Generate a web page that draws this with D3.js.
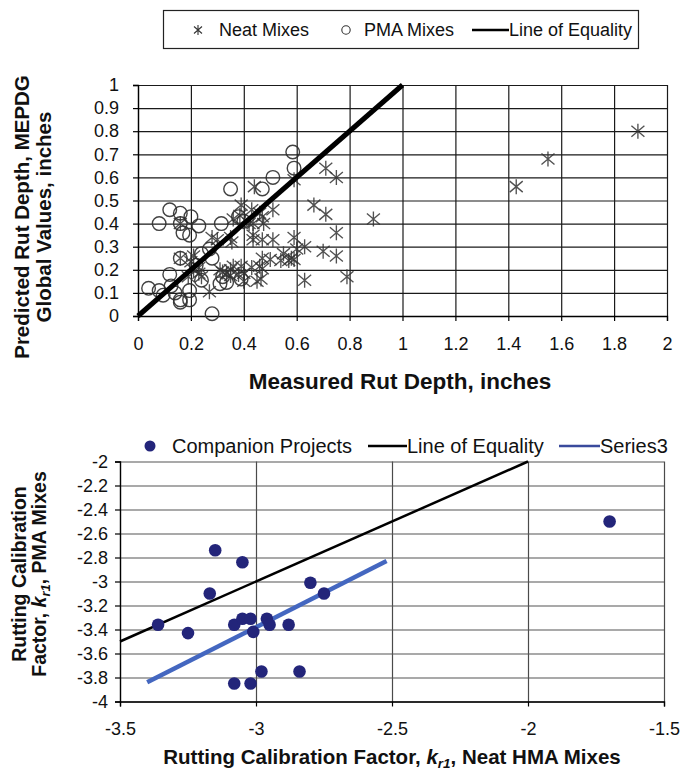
<!DOCTYPE html>
<html><head><meta charset="utf-8">
<script src="https://cdn.jsdelivr.net/npm/d3@7"></script>
<style>
html,body{margin:0;padding:0;background:#fff;}
svg{display:block;font-family:"Liberation Sans",Arial,Helvetica,sans-serif;}
</style></head><body>
<svg id="chart" width="681" height="770"></svg>
<script>
// ---- Rut depth: measured vs. MEPDG predicted (global values), inches ----
const neatMeasured = [1.43,1.55,1.89,0.89,0.71,0.75,0.59,0.44,0.665,0.71,0.75,0.75,0.70,0.63,0.59,0.60,0.51,0.435,0.355,0.28,
  0.79,0.63,0.465,0.40,0.335,0.27,0.39,0.43,0.51,0.47,0.36,0.435,0.475,0.46,0.47,0.50,0.54,0.57,0.59,0.46,
  0.43,0.39,0.36,0.32,0.35,0.16,0.20,0.16,0.23,0.23,0.24,0.31,0.35,0.38,0.40,0.47,0.30,0.35,0.385,0.42,
  0.435,0.47,0.21,0.19,0.21,0.45,0.55,0.58];
const neatPredicted = [0.56,0.68,0.80,0.42,0.64,0.60,0.59,0.56,0.48,0.44,0.36,0.26,0.28,0.30,0.34,0.29,0.33,0.35,0.32,0.34,
  0.17,0.155,0.16,0.185,0.185,0.105,0.48,0.46,0.46,0.43,0.42,0.40,0.40,0.445,0.25,0.245,0.24,0.24,0.245,0.215,
  0.21,0.215,0.215,0.19,0.175,0.25,0.235,0.40,0.185,0.21,0.17,0.20,0.20,0.18,0.15,0.205,0.33,0.34,0.435,0.40,
  0.33,0.33,0.20,0.17,0.26,0.15,0.27,0.25];
const pmaMeasured = [0.585,0.59,0.51,0.35,0.47,0.12,0.16,0.20,0.08,0.16,0.23,0.315,0.17,0.195,0.38,0.16,0.27,0.24,0.28,0.22,
  0.04,0.08,0.12,0.125,0.16,0.195,0.195,0.095,0.14,0.24,0.28,0.31,0.335,0.39,0.32,0.40,0.16];
const pmaPredicted = [0.71,0.64,0.60,0.55,0.55,0.46,0.445,0.43,0.40,0.40,0.39,0.40,0.36,0.35,0.43,0.25,0.29,0.27,0.25,0.22,
  0.12,0.11,0.18,0.13,0.07,0.07,0.11,0.09,0.10,0.155,0.01,0.14,0.145,0.16,0.17,0.41,0.06];
const rutEquality = [0, 1];
const rutXTicks = [0,0.2,0.4,0.6,0.8,1,1.2,1.4,1.6,1.8,2];
const rutXLabels = ["0","0.2","0.4","0.6","0.8","1","1.2","1.4","1.6","1.8","2"];
const rutYTicks = [0,0.1,0.2,0.3,0.4,0.5,0.6,0.7,0.8,0.9,1];
const rutYLabels = ["0","0.1","0.2","0.3","0.4","0.5","0.6","0.7","0.8","0.9","1"];

// ---- Rutting calibration factor k_r1: neat HMA vs. PMA mixes ----
const neatKr1 = [-3.36,-3.25,-3.15,-3.17,-3.05,-3.08,-3.05,-3.02,-3.01,-2.96,-2.95,-2.88,-2.80,-2.75,-2.98,-2.84,-3.08,-3.02,-1.70];
const pmaKr1  = [-3.36,-3.43,-2.74,-3.10,-2.84,-3.36,-3.31,-3.31,-3.42,-3.31,-3.36,-3.36,-3.01,-3.10,-3.75,-3.75,-3.85,-3.85,-2.50];
const kEquality = [-3.5, -2];
const series3X = [-3.4, -2.52];
const series3Y = [-3.84, -2.83];
const kXTicks = [-3.5,-3,-2.5,-2,-1.5];
const kXLabels = ["-3.5","-3","-2.5","-2","-1.5"];
const kYTicks = [-4,-3.8,-3.6,-3.4,-3.2,-3,-2.8,-2.6,-2.4,-2.2,-2];
const kYLabels = ["-4","-3.8","-3.6","-3.4","-3.2","-3","-2.8","-2.6","-2.4","-2.2","-2"];

const svg = d3.select("#chart");
const asterisk = "M-6.5,-5.5L6.5,5.5M-6.5,5.5L6.5,-5.5M0,-7.5L0,7.5";
const FONT = "Liberation Sans, Arial, sans-serif";

// ================= Upper chart =================
const xR = d3.scaleLinear([0, 2], [138, 667]);
const yR = d3.scaleLinear([0, 1], [316, 85]);
const gR = svg.append("g");

// grid
gR.append("g").attr("transform", `translate(0,${yR(0)})`)
  .call(d3.axisBottom(xR).tickValues(rutXTicks).tickSize(0).tickFormat(""))
  .call(g => g.selectAll(".tick line").attr("y2", -(yR(0) - yR(1))).attr("stroke", "#1a1a1a").attr("stroke-width", 1.2))
  .call(g => g.select(".domain").remove());
gR.append("g").attr("transform", `translate(${xR(0)},0)`)
  .call(d3.axisRight(yR).tickValues(rutYTicks).tickSize(xR(2) - xR(0)).tickFormat(""))
  .call(g => g.selectAll(".tick line").attr("stroke", "#1a1a1a").attr("stroke-width", 1.2))
  .call(g => g.select(".domain").remove());

// axes with outward ticks and labels
gR.append("g").attr("transform", `translate(0,${yR(0)})`)
  .call(d3.axisBottom(xR).tickValues(rutXTicks).tickSize(5).tickPadding(16).tickFormat((d, i) => rutXLabels[i]))
  .call(g => g.select(".domain").attr("stroke", "#000").attr("stroke-width", 1.3))
  .call(g => g.selectAll(".tick line").attr("stroke", "#000").attr("stroke-width", 1.2))
  .call(g => g.selectAll("text").attr("font-size", 18).attr("fill", "#111").attr("font-family", FONT));
gR.append("g").attr("transform", `translate(${xR(0)},0)`)
  .call(d3.axisLeft(yR).tickValues(rutYTicks).tickSize(5).tickPadding(14).tickFormat((d, i) => rutYLabels[i]))
  .call(g => g.select(".domain").attr("stroke", "#000").attr("stroke-width", 1.3))
  .call(g => g.selectAll(".tick line").attr("stroke", "#000").attr("stroke-width", 1.2))
  .call(g => g.selectAll("text").attr("font-size", 18).attr("fill", "#111").attr("font-family", FONT));

// PMA mixes (open circles)
gR.append("g").selectAll("circle").data(pmaMeasured).join("circle")
  .attr("cx", (d) => xR(d)).attr("cy", (d, i) => yR(pmaPredicted[i])).attr("r", 6.8)
  .attr("fill", "none").attr("stroke", "#2e2e2e").attr("stroke-width", 1.4).attr("stroke-opacity", 0.9);

// Neat mixes (asterisks)
gR.append("g").selectAll("path").data(neatMeasured).join("path")
  .attr("transform", (d, i) => `translate(${xR(d)},${yR(neatPredicted[i])})`)
  .attr("d", asterisk).attr("fill", "none").attr("stroke", "#333").attr("stroke-width", 1.35).attr("stroke-opacity", 0.85);

// line of equality
gR.append("line")
  .attr("x1", xR(rutEquality[0])).attr("y1", yR(rutEquality[0]))
  .attr("x2", xR(rutEquality[1])).attr("y2", yR(rutEquality[1]))
  .attr("stroke", "#000").attr("stroke-width", 5);

// axis titles
gR.append("text").attr("x", 400).attr("y", 389).attr("text-anchor", "middle")
  .attr("font-size", 22.5).attr("font-weight", "bold").attr("fill", "#111")
  .text("Measured Rut Depth, inches");
const yTitleR = gR.append("text").attr("transform", "translate(29,217) rotate(-90)")
  .attr("text-anchor", "middle").attr("font-size", 20.5).attr("font-weight", "bold").attr("fill", "#111");
yTitleR.append("tspan").attr("x", 0).attr("dy", 0).text("Predicted Rut Depth, MEPDG");
yTitleR.append("tspan").attr("x", 0).attr("dy", 22).text("Global Values, inches");

// legend box
const legR = gR.append("g");
legR.append("rect").attr("x", 163.5).attr("y", 10.5).attr("width", 475).attr("height", 38)
  .attr("fill", "#fff").attr("stroke", "#222").attr("stroke-width", 1.2);
legR.append("path").attr("transform", "translate(198,30)")
  .attr("d", "M-4,-3.5L4,3.5M-4,3.5L4,-3.5M0,-5L0,5").attr("fill", "none").attr("stroke", "#333").attr("stroke-width", 1.1);
legR.append("text").attr("x", 219).attr("y", 36).attr("font-size", 18).attr("fill", "#111").text("Neat Mixes");
legR.append("circle").attr("cx", 346).attr("cy", 30).attr("r", 4.2).attr("fill", "none").attr("stroke", "#333").attr("stroke-width", 1.1);
legR.append("text").attr("x", 364).attr("y", 36).attr("font-size", 18).attr("fill", "#111").text("PMA Mixes");
legR.append("line").attr("x1", 472).attr("x2", 509).attr("y1", 30).attr("y2", 30).attr("stroke", "#000").attr("stroke-width", 2.5);
legR.append("text").attr("x", 509).attr("y", 36).attr("font-size", 18).attr("fill", "#111").text("Line of Equality");

// ================= Lower chart =================
const xK = d3.scaleLinear([-3.5, -1.5], [120, 664]);
const yK = d3.scaleLinear([-4, -2], [701.5, 461.5]);
const gK = svg.append("g");

gK.append("g").attr("transform", `translate(0,${yK(-4)})`)
  .call(d3.axisBottom(xK).tickValues(kXTicks).tickSize(0).tickFormat(""))
  .call(g => g.selectAll(".tick line").attr("y2", -(yK(-4) - yK(-2))).attr("stroke", "#4a4a4a").attr("stroke-width", 1.2))
  .call(g => g.select(".domain").remove());
gK.append("g").attr("transform", `translate(${xK(-3.5)},0)`)
  .call(d3.axisRight(yK).tickValues(kYTicks).tickSize(xK(-1.5) - xK(-3.5)).tickFormat(""))
  .call(g => g.selectAll(".tick line").attr("stroke", "#555").attr("stroke-width", 1.2))
  .call(g => g.select(".domain").remove());

gK.append("g").attr("transform", `translate(0,${yK(-4)})`)
  .call(d3.axisBottom(xK).tickValues(kXTicks).tickSize(5).tickPadding(16).tickFormat((d, i) => kXLabels[i]))
  .call(g => g.select(".domain").attr("stroke", "#000").attr("stroke-width", 1.3))
  .call(g => g.selectAll(".tick line").attr("stroke", "#000").attr("stroke-width", 1.2))
  .call(g => g.selectAll("text").attr("font-size", 18).attr("fill", "#111").attr("font-family", FONT));
gK.append("g").attr("transform", `translate(${xK(-3.5)},0)`)
  .call(d3.axisLeft(yK).tickValues(kYTicks).tickSize(5).tickPadding(7).tickFormat((d, i) => kYLabels[i]))
  .call(g => g.select(".domain").attr("stroke", "#000").attr("stroke-width", 1.3))
  .call(g => g.selectAll(".tick line").attr("stroke", "#000").attr("stroke-width", 1.2))
  .call(g => g.selectAll("text").attr("font-size", 18).attr("fill", "#111").attr("font-family", FONT));

// line of equality
gK.append("line")
  .attr("x1", xK(kEquality[0])).attr("y1", yK(kEquality[0]))
  .attr("x2", xK(kEquality[1])).attr("y2", yK(kEquality[1]))
  .attr("stroke", "#000").attr("stroke-width", 2.5);

// Series3 trend line
gK.append("line")
  .attr("x1", xK(series3X[0])).attr("y1", yK(series3Y[0]))
  .attr("x2", xK(series3X[1])).attr("y2", yK(series3Y[1]))
  .attr("stroke", "#4467c0").attr("stroke-width", 4.5);

// companion projects
gK.append("g").selectAll("circle").data(neatKr1).join("circle")
  .attr("cx", d => xK(d)).attr("cy", (d, i) => yK(pmaKr1[i])).attr("r", 6.3)
  .attr("fill", "#23257a");

// axis titles
const xTitleK = gK.append("text").attr("x", 392).attr("y", 764).attr("text-anchor", "middle")
  .attr("font-size", 20.5).attr("font-weight", "bold").attr("fill", "#111");
xTitleK.append("tspan").text("Rutting Calibration Factor, ");
xTitleK.append("tspan").attr("font-style", "italic").text("k");
xTitleK.append("tspan").attr("font-style", "italic").attr("font-size", 13.5).attr("dy", 4).text("r1");
xTitleK.append("tspan").attr("dy", -4).text(", Neat HMA Mixes");

const yTitleK = gK.append("text").attr("transform", "translate(26,574) rotate(-90)")
  .attr("text-anchor", "middle").attr("font-size", 19.5).attr("font-weight", "bold").attr("fill", "#111");
yTitleK.append("tspan").attr("x", 0).attr("dy", 0).text("Rutting Calibration");
yTitleK.append("tspan").attr("x", 0).attr("dy", 20).text("Factor, ");
yTitleK.append("tspan").attr("font-style", "italic").text("k");
yTitleK.append("tspan").attr("font-style", "italic").attr("font-size", 13).attr("dy", 4).text("r1");
yTitleK.append("tspan").attr("dy", -4).text(", PMA Mixes");

// legend (no border)
const legK = gK.append("g");
legK.append("circle").attr("cx", 150).attr("cy", 446).attr("r", 5.5).attr("fill", "#23257a");
legK.append("text").attr("x", 172).attr("y", 452.5).attr("font-size", 20).attr("fill", "#111").text("Companion Projects");
legK.append("line").attr("x1", 368).attr("x2", 407).attr("y1", 446).attr("y2", 446).attr("stroke", "#000").attr("stroke-width", 2.5);
legK.append("text").attr("x", 407).attr("y", 452.5).attr("font-size", 20).attr("fill", "#111").text("Line of Equality");
legK.append("line").attr("x1", 559).attr("x2", 600).attr("y1", 446).attr("y2", 446).attr("stroke", "#3a4a9c").attr("stroke-width", 2.5);
legK.append("text").attr("x", 600).attr("y", 452.5).attr("font-size", 20).attr("fill", "#111").text("Series3");
</script>
</body></html>
